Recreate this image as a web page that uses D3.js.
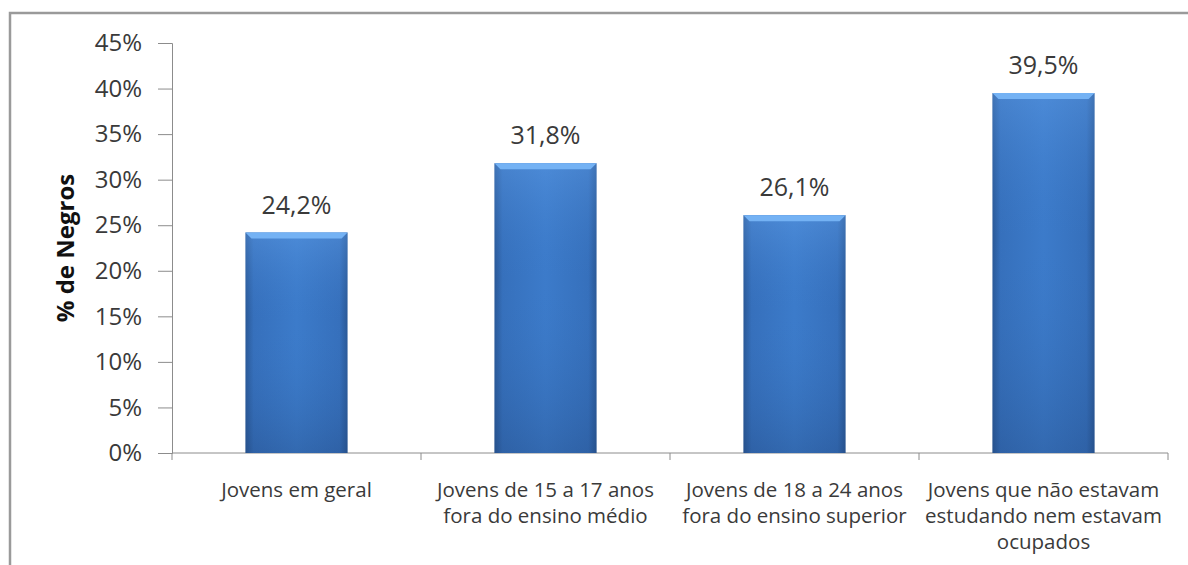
<!DOCTYPE html>
<html lang="pt">
<head>
<meta charset="utf-8">
<title>% de Negros</title>
<script src="https://cdn.jsdelivr.net/npm/d3@7"></script>
<style>
  html, body { margin: 0; padding: 0; background: #fff; }
  svg { display: block; font-family: "Open Sans", "Noto Sans", sans-serif; }
</style>
</head>
<body>
<svg width="1188" height="565"></svg>
<script>
// data
var categories = [
  ["Jovens em geral"],
  ["Jovens de 15 a 17 anos", "fora do ensino médio"],
  ["Jovens de 18 a 24 anos", "fora do ensino superior"],
  ["Jovens que não estavam", "estudando nem estavam", "ocupados"]
];
var values = [24.2, 31.8, 26.1, 39.5];
var yTicks = [0, 5, 10, 15, 20, 25, 30, 35, 40, 45];

var svg = d3.select("svg"),
    width = +svg.attr("width"),
    height = +svg.attr("height");

var margin = {top: 43, right: 20, bottom: 112, left: 172};

var x = d3.scaleBand()
    .domain(d3.range(categories.length))
    .range([margin.left, width - margin.right])
    .paddingInner(0.59)
    .paddingOuter(0.295);

var y = d3.scaleLinear()
    .domain([0, 45])
    .range([height - margin.bottom, margin.top]);

var fmt = function(v) { return d3.format(".1f")(v).replace(".", ",") + "%"; };

// frame of the pasted chart
svg.append("path")
    .attr("d", "M10,565V13H1188")
    .attr("fill", "none")
    .attr("stroke", "#9a9a9a")
    .attr("stroke-width", 2.5);

var defs = svg.append("defs");

var side = defs.append("linearGradient").attr("id", "side")
    .attr("x1", 0).attr("x2", 1).attr("y1", 0).attr("y2", 0);
side.append("stop").attr("offset", "0%").attr("stop-color", "#2a5896");
side.append("stop").attr("offset", "8%").attr("stop-color", "#3670bc");
side.append("stop").attr("offset", "50%").attr("stop-color", "#3c7bca");
side.append("stop").attr("offset", "92%").attr("stop-color", "#3670bc");
side.append("stop").attr("offset", "100%").attr("stop-color", "#2a5896");

var shade = defs.append("linearGradient").attr("id", "shade")
    .attr("x1", 0).attr("x2", 0).attr("y1", 0).attr("y2", 1);
shade.append("stop").attr("offset", "0%").attr("stop-color", "#6aa8f0").attr("stop-opacity", 0.35);
shade.append("stop").attr("offset", "40%").attr("stop-color", "#3c7bca").attr("stop-opacity", 0);
shade.append("stop").attr("offset", "100%").attr("stop-color", "#1d3f73").attr("stop-opacity", 0.3);

// axes
var yAxis = svg.append("g")
    .attr("transform", "translate(" + margin.left + ",0)")
    .call(d3.axisLeft(y).tickValues(yTicks).tickSize(14).tickPadding(16)
      .tickFormat(function(d) { return d + "%"; }));
yAxis.select(".domain").attr("stroke", "#8c8c8c");
yAxis.selectAll(".tick line").attr("stroke", "#8c8c8c");
yAxis.selectAll("text")
    .attr("font-size", 24)
    .attr("fill", "#3a3a3a")
    .attr("font-family", "\"Open Sans\", sans-serif");

var bounds = d3.range(categories.length + 1).map(function(i) {
  return margin.left + i * x.step();
});

svg.append("line")
    .attr("x1", margin.left).attr("x2", width - margin.right)
    .attr("y1", y(0)).attr("y2", y(0))
    .attr("stroke", "#8c8c8c");

svg.selectAll(".xtick")
    .data(bounds)
  .enter().append("line")
    .attr("class", "xtick")
    .attr("x1", function(d) { return d; }).attr("x2", function(d) { return d; })
    .attr("y1", y(0)).attr("y2", y(0) + 7)
    .attr("stroke", "#8c8c8c");

// bars
var bar = svg.selectAll(".bar")
    .data(values)
  .enter().append("g")
    .attr("class", "bar");

bar.append("rect")
    .attr("x", function(d, i) { return x(i); })
    .attr("y", function(d) { return y(d); })
    .attr("width", x.bandwidth())
    .attr("height", function(d) { return y(0) - y(d); })
    .attr("fill", "url(#side)");

bar.append("rect")
    .attr("x", function(d, i) { return x(i); })
    .attr("y", function(d) { return y(d); })
    .attr("width", x.bandwidth())
    .attr("height", function(d) { return y(0) - y(d); })
    .attr("fill", "url(#shade)");

// top bevel
bar.append("path")
    .attr("d", function(d, i) {
      var x0 = x(i), x1 = x(i) + x.bandwidth(), t = y(d), b = 6;
      return "M" + x0 + "," + t + "H" + x1 + "L" + (x1 - b) + "," + (t + b) +
             "H" + (x0 + b) + "Z";
    })
    .attr("fill", "#74b2f4");

bar.append("text")
    .attr("x", function(d, i) { return x(i) + x.bandwidth() / 2; })
    .attr("y", function(d) { return y(d) - 19; })
    .attr("text-anchor", "middle")
    .attr("font-size", 25)
    .attr("fill", "#3a3a3a")
    .text(fmt);

// category labels
var lab = svg.selectAll(".cat")
    .data(categories)
  .enter().append("text")
    .attr("class", "cat")
    .attr("text-anchor", "middle")
    .attr("font-size", 20.5)
    .attr("fill", "#3a3a3a");

lab.selectAll("tspan")
    .data(function(d, i) { return d.map(function(s) { return {s: s, i: i}; }); })
  .enter().append("tspan")
    .attr("x", function(d) { return x(d.i) + x.bandwidth() / 2; })
    .attr("y", function(d, j) { return y(0) + 44 + j * 26; })
    .text(function(d) { return d.s; });

// y axis title
svg.append("text")
    .attr("transform", "translate(74," + ((y(0) + y(45)) / 2) + ") rotate(-90)")
    .attr("text-anchor", "middle")
    .attr("font-size", 24)
    .attr("font-weight", "bold")
    .attr("fill", "#111")
    .text("% de Negros");
</script>
</body>
</html>
